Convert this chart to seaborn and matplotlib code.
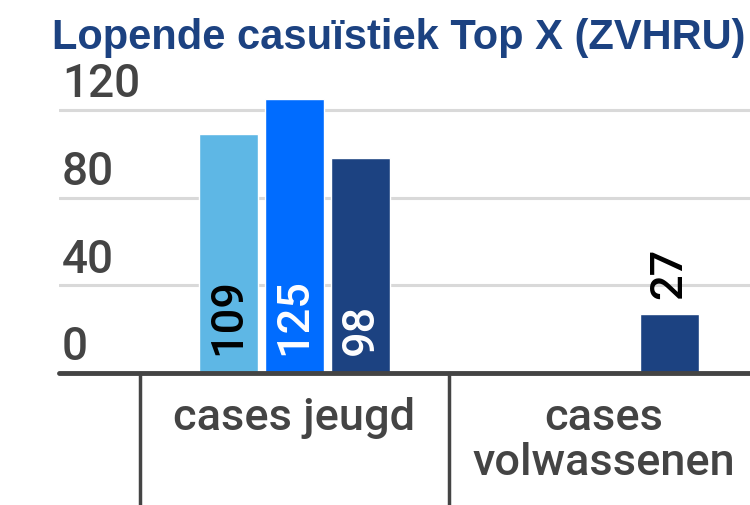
import numpy as np
import pandas as pd
import matplotlib
matplotlib.use("Agg")
import matplotlib.pyplot as plt
import matplotlib.transforms as mtransforms
import seaborn as sns

# Data
categories = ["cases jeugd", "cases\nvolwassenen"]
series = ["reeks 1", "reeks 2", "reeks 3"]
jeugd = [109, 125, 98]
volwassenen = [np.nan, np.nan, 27]
colors = ["#5eb7e5", "#006cff", "#1c4281"]
label_colors = ["black", "white", "white"]
yticks = [0, 40, 80, 120]

rows = []
for s, a, b in zip(series, jeugd, volwassenen):
    rows.append({"categorie": categories[0], "reeks": s, "waarde": a})
    rows.append({"categorie": categories[1], "reeks": s, "waarde": b})
df = pd.DataFrame(rows)

sns.set_style("white")
plt.rcParams["font.family"] = ["Roboto", "DejaVu Sans"]
plt.rcParams["font.weight"] = "medium"

fig = plt.figure(figsize=(7.5, 5.05), dpi=100)
ax = fig.add_axes([59 / 750, 132 / 505, 691 / 750, 285 / 505])

sns.barplot(data=df, x="categorie", y="waarde", hue="reeks", order=categories,
            hue_order=series, palette=colors, saturation=1, width=0.641, gap=0.12,
            errorbar=None, legend=False, ax=ax)

ax.set_ylim(0, 130)
ax.set_xlim(-0.762, 1.474)
ax.set_xlabel("")
ax.set_ylabel("")
ax.set_xticks([])
ax.set_yticks([])
for sp in ax.spines.values():
    sp.set_visible(False)

# gridlines + y labels placed above the line
blend = mtransforms.blended_transform_factory(ax.transAxes, ax.transData)
for t in yticks:
    if t > 0:
        ax.axhline(t, color="#d9d9d9", lw=2.2, zorder=0)
    ax.annotate(str(t), xy=(0, t), xycoords=blend, xytext=(2, 9), textcoords="offset points",
                ha="left", va="baseline", fontsize=33, color="#444444")

ax.axhline(0, color="#444444", lw=3.5, zorder=5, clip_on=False)

# category separators
blend_x = mtransforms.blended_transform_factory(ax.transData, ax.transAxes)
for x in [-0.5, 0.5]:
    ax.plot([x, x], [0, -0.5], transform=blend_x, color="#444444", lw=2.5, clip_on=False)

# category labels
for i, c in enumerate(categories):
    ax.annotate(c, xy=(i, 0), xytext=(0, -17), textcoords="offset points",
                ha="center", va="top", fontsize=32.5, color="#444444", linespacing=1.1)

# bar value labels
for si, cont in enumerate(ax.containers):
    for bar in cont:
        h = bar.get_height()
        if np.isnan(h) or h == 0:
            continue
        cx = bar.get_x() + bar.get_width() / 2
        if h > 60:
            ax.annotate(f"{h:.0f}", xy=(cx, 0), xytext=(0, 13), textcoords="offset points",
                        ha="center", va="bottom", rotation=90, fontsize=32.5,
                        color=label_colors[si], zorder=6)
        else:
            ax.annotate(f"{h:.0f}", xy=(cx, h), xytext=(0, 11), textcoords="offset points",
                        ha="center", va="bottom", rotation=90, fontsize=32.5,
                        color="black", zorder=6)

fig.text(52 / 750, 1 - 49 / 505, "Lopende casuïstiek Top X (ZVHRU)", ha="left", va="baseline",
         fontsize=30, fontweight="bold", color="#1c4281", family="Liberation Sans")

fig.savefig("out.png", dpi=100)
